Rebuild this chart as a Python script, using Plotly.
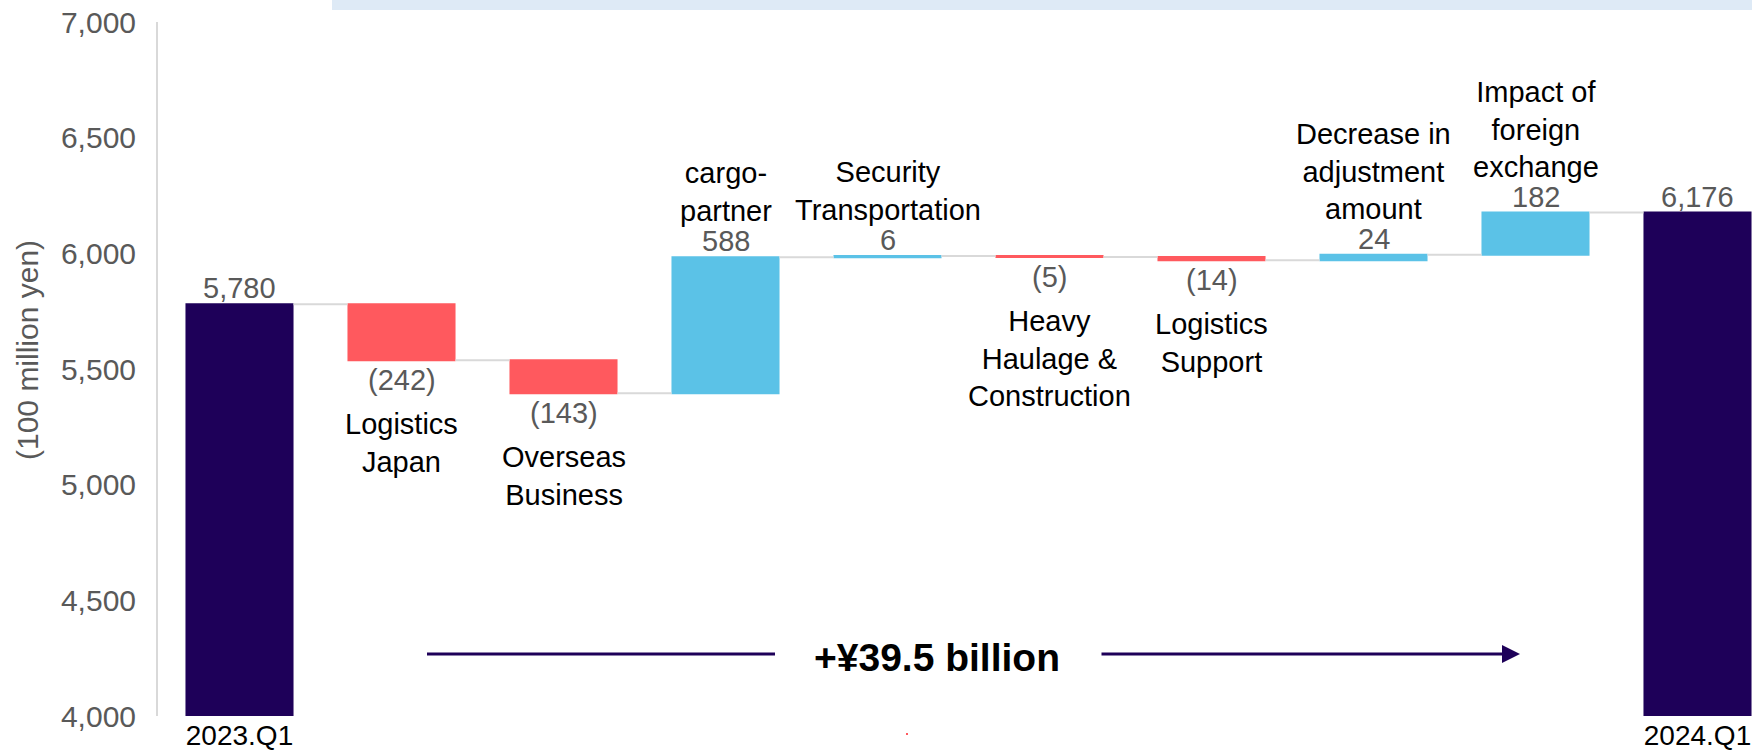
import plotly.graph_objects as go

# ---- data ----
categories = ["2023.Q1", "Logistics<br>Japan", "Overseas<br>Business", "cargo-<br>partner",
              "Security<br>Transportation", "Heavy<br>Haulage &<br>Construction",
              "Logistics<br>Support", "Decrease in<br>adjustment<br>amount",
              "Impact of<br>foreign<br>exchange", "2024.Q1"]
values = [5780, -242, -143, 588, 6, -5, -14, 24, 182, 6176]
measures = ["absolute", "relative", "relative", "relative", "relative", "relative",
            "relative", "relative", "relative", "total"]
y_ticks = [4000, 4500, 5000, 5500, 6000, 6500, 7000]
total_change_label = "+¥39.5 billion"

# ---- style ----
NAVY = "#1E0059"
RED = "#FF595E"
BLUE = "#5BC2E7"
GRAY_TXT = "#595959"
FONT = "Arial, Liberation Sans, sans-serif"

W, H = 1752, 752
ML, MR, MT, MB = 158, 0, 22, 36
x_idx = list(range(len(values)))
step_px = 162.0
first_center_px = 239.5
x_range = [(ML - first_center_px) / step_px, (W - MR - first_center_px) / step_px]

fig = go.Figure()
fig.add_trace(go.Waterfall(
    x=x_idx, y=values, measure=measures,
    width=0.667,
    increasing=dict(marker=dict(color=BLUE)),
    decreasing=dict(marker=dict(color=RED)),
    totals=dict(marker=dict(color=NAVY)),
    connector=dict(mode="between", line=dict(color="#D9D9D9", width=2)),
    hoverinfo="skip", showlegend=False,
))

annotations = []
level = 0
for i, (v, m) in enumerate(zip(values, measures)):
    if m == "absolute":
        level = v
        top, bottom, up = v, None, True
        txt = f"{v:,}"
    elif m == "total":
        top, bottom, up = level, None, True
        txt = f"{level:,}"
    else:
        start = level
        level = level + v
        up = v >= 0
        top = max(start, level)
        bottom = min(start, level)
        txt = f"{v:,}" if v >= 0 else f"({-v:,})"
    if up:
        annotations.append(dict(x=i, y=top, xref="x", yref="y", text=txt, showarrow=False,
                                yanchor="middle", yshift=16,
                                font=dict(family=FONT, size=29, color=GRAY_TXT)))
        if m == "relative":
            annotations.append(dict(x=i, y=top, xref="x", yref="y", text=categories[i],
                                    showarrow=False, yanchor="bottom", yshift=28,
                                    font=dict(family=FONT, size=29, color="black")))
    else:
        annotations.append(dict(x=i, y=bottom, xref="x", yref="y", text=txt, showarrow=False,
                                yanchor="middle", yshift=-20,
                                font=dict(family=FONT, size=29, color=GRAY_TXT)))
        annotations.append(dict(x=i, y=bottom, xref="x", yref="y", text=categories[i],
                                showarrow=False, yanchor="top", yshift=-46,
                                font=dict(family=FONT, size=29, color="black")))

# y-axis title as rotated annotation
plot_w = W - ML - MR
plot_h = H - MT - MB
annotations.append(dict(x=(27 - ML) / plot_w, y=(H - MB - 350) / plot_h, xref="paper", yref="paper",
                        text="(100 million yen)", textangle=-90, showarrow=False,
                        xanchor="center", yanchor="middle",
                        font=dict(family=FONT, size=30, color=GRAY_TXT)))

# total change arrow
def px_to_x(px):
    return (px - first_center_px) / step_px

arrow_y = 4268
annotations.append(dict(x=px_to_x(937), y=4255, xref="x", yref="y", text="<b>" + total_change_label + "</b>",
                        showarrow=False, font=dict(family=FONT, size=39, color="black")))
annotations.append(dict(x=px_to_x(1520), y=arrow_y, ax=px_to_x(1100), ay=arrow_y,
                        xref="x", yref="y", axref="x", ayref="y", text="",
                        showarrow=True, arrowhead=2, arrowsize=1.2, arrowwidth=3, arrowcolor=NAVY))

shapes = [
    dict(type="line", xref="x", yref="y", x0=px_to_x(427), x1=px_to_x(775), y0=arrow_y, y1=arrow_y,
         line=dict(color=NAVY, width=3)),
    dict(type="rect", xref="paper", yref="paper", x0=(332 - ML) / plot_w, x1=1,
         y0=1 + (MT - 10) / plot_h, y1=1 + MT / plot_h, line=dict(width=0), fillcolor="#DEEAF6"),
    dict(type="rect", xref="paper", yref="paper", x0=(906 - ML) / plot_w, x1=(908 - ML) / plot_w,
         y0=(H - MB - 735) / plot_h, y1=(H - MB - 733) / plot_h, line=dict(width=0), fillcolor=RED),
]

fig.update_layout(
    width=W, height=H,
    margin=dict(l=ML, r=MR, t=MT, b=MB),
    paper_bgcolor="white", plot_bgcolor="white",
    font=dict(family=FONT),
    annotations=annotations, shapes=shapes,
    xaxis=dict(range=x_range, tickmode="array", tickvals=[0, len(values) - 1],
               ticktext=[categories[0], categories[-1]], showgrid=False, zeroline=False,
               showline=False, ticks="", tickfont=dict(family=FONT, size=28, color="black"),
               automargin=False, fixedrange=True),
    yaxis=dict(range=[4000, 7000], tickmode="array", tickvals=y_ticks,
               tickformat=",", showgrid=False, zeroline=False, showline=True,
               linecolor="#D9D9D9", linewidth=2, ticks="", ticklabelstandoff=14,
               tickfont=dict(family=FONT, size=30, color=GRAY_TXT), automargin=False,
               fixedrange=True),
)

fig.write_html("out.html")
